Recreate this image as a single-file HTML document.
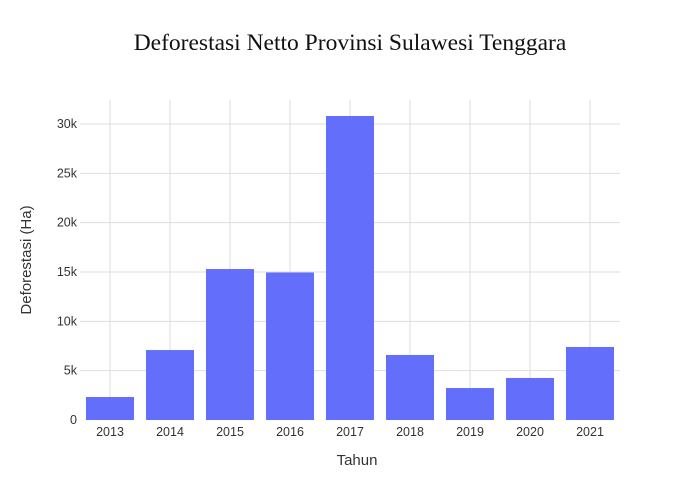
<!DOCTYPE html>
<html><head><meta charset="utf-8"><style>
body{margin:0;background:#fff}
svg{display:block;font-family:"Liberation Sans",Arial,sans-serif}
</style></head><body>
<svg id="chart" width="700" height="500">
<rect width="700" height="500" fill="#fff"/>
<text x="350" y="50" text-anchor="middle" font-family="Liberation Serif, serif" font-size="23.5" fill="#111">Deforestasi Netto Provinsi Sulawesi Tenggara</text>
<g id="grid"></g><g id="bars"></g><g id="xticks"></g><g id="yticks"></g>
<text x="357" y="465" text-anchor="middle" font-size="15" fill="#333">Tahun</text>
<text transform="translate(31,260) rotate(-90)" text-anchor="middle" font-size="15" fill="#333">Deforestasi (Ha)</text>
</svg>
<script>
const categories=["2013","2014","2015","2016","2017","2018","2019","2020","2021"];
const values=[2330,7090,15300,14950,30810,6590,3240,4260,7400];
const yTicks=[0,5000,10000,15000,20000,25000,30000];
const yTickLabels=["0","5k","10k","15k","20k","25k","30k"];
const L=80,R=620,T=100,B=420,maxY=30000,yTop=124;
const ns="http://www.w3.org/2000/svg";
function y(v){return B-(B-yTop)*v/maxY;}
const band=(R-L)/categories.length;
function xc(i){return L+band*(i+0.5);}
function mk(t,a,p){const e=document.createElementNS(ns,t);for(const k in a)e.setAttribute(k,a[k]);document.getElementById(p).appendChild(e);return e;}
categories.forEach((c,i)=>{
 const g=mk("line",{x1:xc(i),x2:xc(i),y1:T,y2:B,stroke:"#dedede"},"grid");
 
 
});
yTicks.forEach((v,i)=>{
 if(v>0){const g=mk("line",{x1:L,x2:R,y1:y(v),y2:y(v),stroke:"#dedede"},"grid");
 
 }
 const t=mk("text",{x:L-3,y:y(v)+4,"text-anchor":"end","font-size":"12.5",fill:"#333"},"yticks");
 t.textContent=yTickLabels[i];
 
 
});
categories.forEach((c,i)=>{
 const w=band*0.8;
 const b=mk("rect",{x:xc(i)-w/2,y:y(values[i]),width:w,height:B-y(values[i]),fill:"#636efa"},"bars");
 
 
 const t=mk("text",{x:xc(i),y:B+16,"text-anchor":"middle","font-size":"12.5",fill:"#333"},"xticks");
 t.textContent=c;
 
 
});
</script>
</body></html>
